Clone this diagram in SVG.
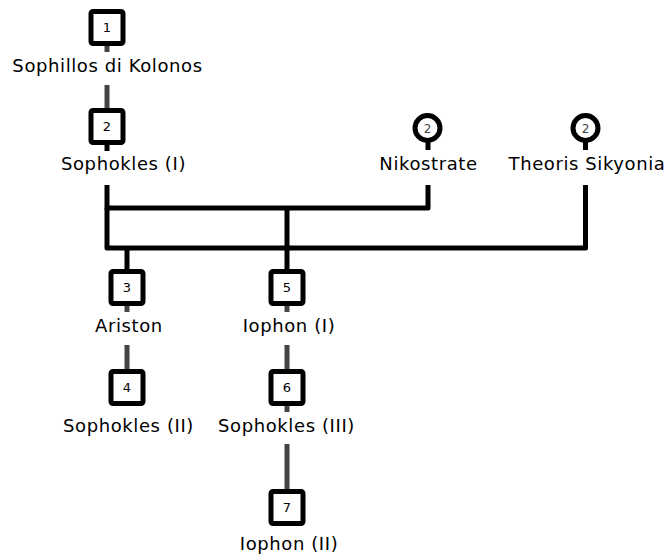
<svg xmlns="http://www.w3.org/2000/svg" width="668" height="558" viewBox="0 0 668 558">
  <style>
    .box { fill: #fff; stroke: #000; stroke-width: 5; }
    .ring { fill: #fff; stroke: #000; stroke-width: 5; }
    .num { font-family: "DejaVu Sans", sans-serif; font-size: 13px; fill: #000; text-anchor: middle; }
    .rnum { font-family: "DejaVu Sans", sans-serif; font-size: 12px; fill: #444; text-anchor: middle; }
    .name { font-family: "DejaVu Sans", sans-serif; font-size: 18px; letter-spacing: 0.6px; fill: #000; text-anchor: middle; }
    .line { fill: none; stroke: #000; stroke-width: 5; stroke-linejoin: round; }
    .desc { fill: none; stroke: #444; stroke-width: 5; }
  </style>
  <rect width="668" height="558" fill="#fff"/>

  <g id="connectors">
    <!-- descent lines (grey) -->
    <line class="desc" x1="107" y1="45" x2="107" y2="52"/>
    <line class="desc" x1="107" y1="85" x2="107" y2="110"/>
    <line class="desc" x1="127" y1="305" x2="127" y2="312"/>
    <line class="desc" x1="127" y1="345" x2="127" y2="371"/>
    <line class="desc" x1="287" y1="305" x2="287" y2="312"/>
    <line class="desc" x1="287" y1="345" x2="287" y2="371"/>
    <line class="desc" x1="287" y1="405" x2="287" y2="412"/>
    <line class="desc" x1="287" y1="444" x2="287" y2="491"/>
    <!-- partner stubs -->
    <line class="line" x1="107" y1="144" x2="107" y2="151"/>
    <line class="line" x1="428" y1="140" x2="428" y2="150"/>
    <line class="line" x1="585.5" y1="140" x2="585.5" y2="150"/>
    <!-- marriage lines -->
    <path class="line" d="M107 185 V208 H428 V185"/>
    <path class="line" d="M107 208 V248 H585.5 V185"/>
    <!-- children -->
    <line class="line" x1="287" y1="208" x2="287" y2="271"/>
    <line class="line" x1="127" y1="248" x2="127" y2="271"/>
  </g>

  <g id="n1">
    <rect class="box" x="91" y="11.5" width="32" height="32" rx="2"/>
    <text class="num" x="107" y="32">1</text>
    <text class="name" x="107.5" y="71.5">Sophillos di Kolonos</text>
  </g>
  <g id="n2">
    <rect class="box" x="91" y="110.5" width="32" height="32" rx="2"/>
    <text class="num" x="107" y="131">2</text>
    <text class="name" x="123.5" y="170">Sophokles (I)</text>
  </g>
  <g id="nikostrate">
    <circle class="ring" cx="427.5" cy="128" r="12.5"/>
    <text class="rnum" x="427.5" y="132.5">2</text>
    <text class="name" x="428.5" y="170">Nikostrate</text>
  </g>
  <g id="theoris">
    <circle class="ring" cx="585.5" cy="128" r="12.5"/>
    <text class="rnum" x="585.5" y="132.5">2</text>
    <text class="name" x="587" y="170">Theoris Sikyonia</text>
  </g>
  <g id="n3">
    <rect class="box" x="111" y="271.5" width="32" height="32" rx="2"/>
    <text class="num" x="127" y="292">3</text>
    <text class="name" x="129" y="332">Ariston</text>
  </g>
  <g id="n5">
    <rect class="box" x="271" y="271.5" width="32" height="32" rx="2"/>
    <text class="num" x="287" y="292">5</text>
    <text class="name" x="289" y="332">Iophon (I)</text>
  </g>
  <g id="n4">
    <rect class="box" x="111" y="371.5" width="32" height="32" rx="2"/>
    <text class="num" x="127" y="392">4</text>
    <text class="name" x="128.5" y="432">Sophokles (II)</text>
  </g>
  <g id="n6">
    <rect class="box" x="271" y="371.5" width="32" height="32" rx="2"/>
    <text class="num" x="287" y="392">6</text>
    <text class="name" x="286.5" y="432">Sophokles (III)</text>
  </g>
  <g id="n7">
    <rect class="box" x="271" y="491.5" width="32" height="32" rx="2"/>
    <text class="num" x="287" y="512">7</text>
    <text class="name" x="289" y="550">Iophon (II)</text>
  </g>
</svg>
